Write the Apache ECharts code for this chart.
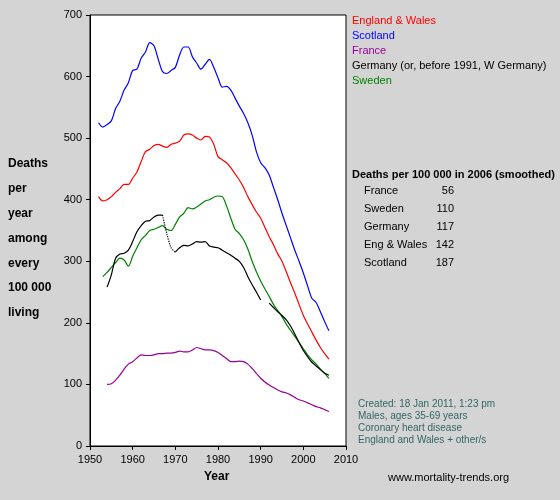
<!DOCTYPE html>
<html>
<head>
<meta charset="utf-8">
<script src="https://cdn.jsdelivr.net/npm/echarts@6/dist/echarts.min.js"></script>
<style>
  html, body { margin: 0; padding: 0; background: #d4d4d4; }
  #chart { width: 560px; height: 500px; }
</style>
</head>
<body>
<div id="chart"></div>
<script>
// data, deaths per 100 000 (smoothed)
var scotYears = [1952,1953,1954,1955,1956,1957,1958,1959,1960,1961,1962,1963,1964,1965,1966,1967,1968,1969,1970,1971,1972,1973,1974,1975,1976,1977,1978,1979,1980,1981,1982,1983,1984,1985,1986,1987,1988,1989,1990,1991,1992,1993,1994,1995,1996,1997,1998,1999,2000,2001,2002,2003,2004,2005,2006];
var scotland = [525,518,522,528,548,560,578,590,610,612,630,640,655,650,628,608,605,610,615,635,648,648,632,622,612,620,628,615,598,583,584,578,565,552,540,525,505,478,460,452,440,420,400,378,358,338,318,300,281,260,240,233,218,202,187];
var engWales = [405,398,400,405,412,418,425,425,435,445,462,478,482,488,490,487,485,490,492,495,505,507,505,500,497,503,502,490,470,465,460,452,442,432,420,405,392,380,370,355,340,327,312,300,283,265,248,230,212,198,185,172,160,150,141];

var swedenYears = [1953,1954,1955,1956,1957,1958,1959,1960,1961,1962,1963,1964,1965,1966,1967,1968,1969,1970,1971,1972,1973,1974,1975,1976,1977,1978,1979,1980,1981,1982,1983,1984,1985,1986,1987,1988,1989,1990,1991,1992,1993,1994,1995,1996,1997,1998,1999,2000,2001,2002,2003,2004,2005,2006];
var sweden = [275,282,290,298,305,302,292,308,322,335,342,350,352,355,358,352,350,360,372,378,387,385,388,393,398,400,404,406,405,390,370,352,345,335,320,300,283,268,255,243,230,220,210,198,188,178,168,158,148,140,133,125,118,110];

var franceYears = [1954,1955,1956,1957,1958,1959,1960,1961,1962,1963,1964,1965,1966,1967,1968,1969,1970,1971,1972,1973,1974,1975,1976,1977,1978,1979,1980,1981,1982,1983,1984,1985,1986,1987,1988,1989,1990,1991,1992,1993,1994,1995,1996,1997,1998,1999,2000,2001,2002,2003,2004,2005,2006];
var france = [100,101,107,115,125,133,137,143,148,147,147,148,150,150,151,151,152,154,153,153,156,160,158,156,156,155,152,147,142,137,137,138,137,133,126,118,110,104,99,95,91,88,86,83,79,75,73,70,67,64,62,59,56];

var germanyYears = [1954,1955,1956,1957,1958,1959,1960,1961,1962,1963,1964,1965,1966,1967];
var germany = [258,278,305,312,313,318,332,348,358,365,366,372,375,375];
var germanyJoinYears = [1967,1968,1969,1970];
var germanyJoin = [375,345,322,315];
var germanyWYears = [1970,1971,1972,1973,1974,1975,1976,1977,1978,1979,1980,1981,1982,1983,1984,1985,1986,1987,1988,1989,1990];
var germanyW = [315,322,326,325,328,332,331,332,325,323,322,318,314,310,305,300,290,275,262,250,237];
var germanyUYears = [1992,1993,1994,1995,1996,1997,1998,1999,2000,2001,2002,2003,2004,2005,2006];
var germanyU = [232,225,218,212,205,195,182,168,155,145,136,130,124,118,115];

var legendNames = ['England & Wales', 'Scotland', 'France', 'Germany (or, before 1991, W Germany)', 'Sweden'];
var legendColors = ['#ff0000', '#0000ff', '#990099', '#000000', '#008000'];
var tableNames = ['France', 'Sweden', 'Germany', 'Eng & Wales', 'Scotland'];
var tableValues = [56, 110, 117, 142, 187];
var notes = ['Created: 18 Jan 2011, 1:23 pm', 'Males, ages 35-69 years', 'Coronary heart disease', 'England and Wales + other/s'];

function zip(xs, ys) {
  return xs.map(function (x, i) { return [x, ys[i]]; });
}
function line(name, xs, ys, color, type) {
  return {
    name: name, type: 'line', data: zip(xs, ys), smooth: 0.3,
    showSymbol: false, silent: true,
    lineStyle: { color: color, width: 1.2, type: type || 'solid' }
  };
}

var txt = { fontFamily: 'Liberation Sans, Arial, sans-serif', fontSize: 11 };
var graphics = [];
// y axis title
['Deaths', 'per', 'year', 'among', 'every', '100 000', 'living'].forEach(function (s, i) {
  graphics.push({ type: 'text', left: 8, top: 158 + i * 24.8,
    style: { text: s, font: 'bold 12px Liberation Sans, Arial', fill: '#000' } });
});
graphics.push({ type: 'text', left: 204, top: 471,
  style: { text: 'Year', font: 'bold 12px Liberation Sans, Arial', fill: '#000' } });
legendNames.forEach(function (s, i) {
  graphics.push({ type: 'text', left: 352, top: 15 + i * 15,
    style: { text: s, font: '11px Liberation Sans, Arial', fill: legendColors[i] } });
});
graphics.push({ type: 'text', left: 352, top: 169,
  style: { text: 'Deaths per 100 000 in 2006 (smoothed)', font: 'bold 11px Liberation Sans, Arial', fill: '#000' } });
tableNames.forEach(function (s, i) {
  graphics.push({ type: 'text', left: 364, top: 185 + i * 18,
    style: { text: s, font: '11px Liberation Sans, Arial', fill: '#000' } });
  graphics.push({ type: 'text', right: 106, top: 185 + i * 18,
    style: { text: String(tableValues[i]), font: '11px Liberation Sans, Arial', fill: '#000', align: 'right' } });
});
notes.forEach(function (s, i) {
  graphics.push({ type: 'text', left: 358, top: 399 + i * 12,
    style: { text: s, font: '10px Liberation Sans, Arial', fill: '#336666' } });
});
graphics.push({ type: 'text', left: 388, top: 472,
  style: { text: 'www.mortality-trends.org', font: '11px Liberation Sans, Arial', fill: '#000' } });

var myChart = echarts.init(document.getElementById('chart'));
var option = {
  animation: false,
  backgroundColor: '#d4d4d4',
  grid: { left: 90, right: 214, top: 15, bottom: 54, show: true,
    backgroundColor: '#ffffff', borderColor: '#000', borderWidth: 1 },
  xAxis: {
    type: 'value', min: 1950, max: 2010, interval: 10,
    axisLine: { show: true, lineStyle: { color: '#000' } },
    axisTick: { show: true, length: 4, lineStyle: { color: '#000' } },
    axisLabel: Object.assign({ color: '#000', formatter: function (v) { return String(v); } }, txt),
    splitLine: { show: false }
  },
  yAxis: {
    type: 'value', min: 0, max: 700, interval: 100,
    axisLine: { show: true, lineStyle: { color: '#000' } },
    axisTick: { show: true, length: 4, lineStyle: { color: '#000' } },
    axisLabel: Object.assign({ color: '#000' }, txt),
    splitLine: { show: false }
  },
  series: [
    line('Scotland', scotYears, scotland, '#0000ff'),
    line('England & Wales', scotYears, engWales, '#ff0000'),
    line('Sweden', swedenYears, sweden, '#008000'),
    line('France', franceYears, france, '#990099'),
    line('Germany', germanyYears, germany, '#000000'),
    line('Germany join', germanyJoinYears, germanyJoin, '#000000', 'dotted'),
    line('W Germany', germanyWYears, germanyW, '#000000'),
    line('Germany', germanyUYears, germanyU, '#000000')
  ],
  graphic: graphics
};
myChart.setOption(option);
</script>
</body>
</html>
